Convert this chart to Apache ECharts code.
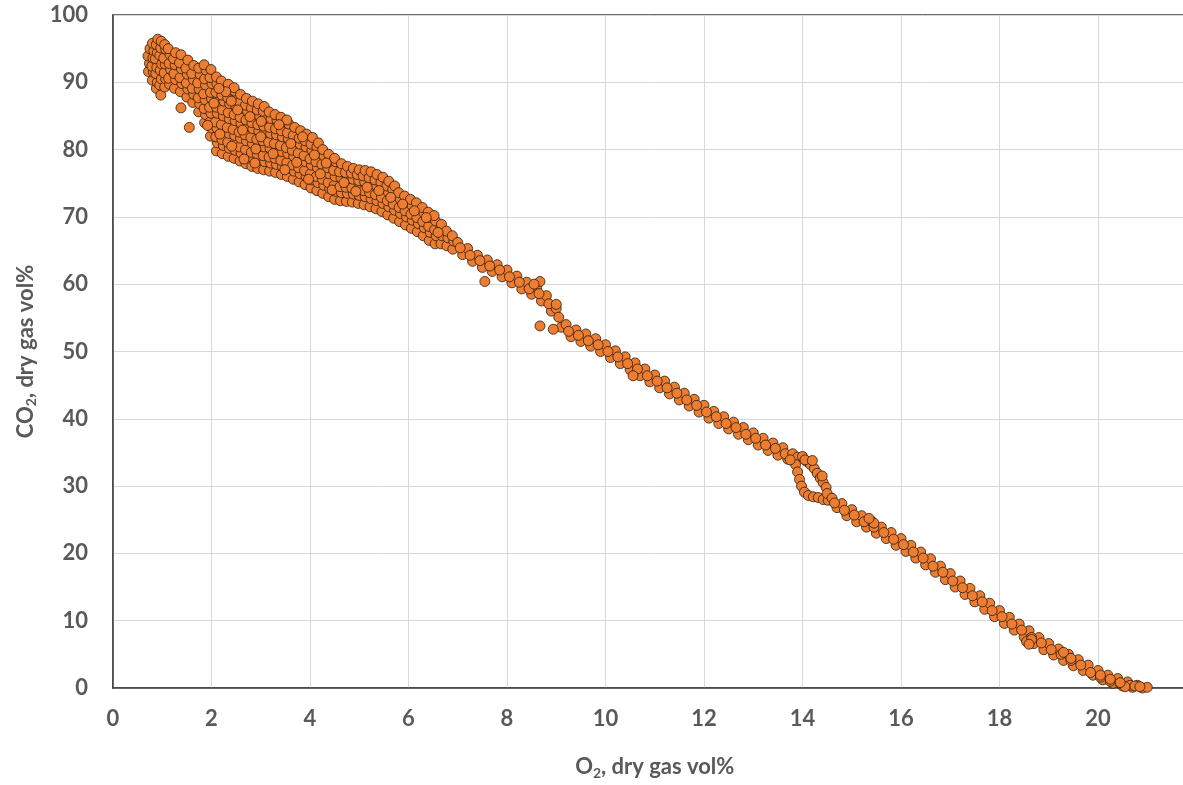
<!DOCTYPE html>
<html>
<head>
<meta charset="utf-8">
<script src="https://cdn.jsdelivr.net/npm/echarts@6/dist/echarts.min.js"></script>
<style>
html,body{margin:0;padding:0;background:#fff;overflow:hidden;width:1183px;height:785px;}
#chart{width:1200px;height:785px;}
</style>
</head>
<body>
<div id="chart"></div>
<script>
// ---- data (O2 vol%, CO2 vol%) ----
const tipCluster = [
[0.72,91.6],[0.74,92.8],[0.71,93.9],[0.75,95.0],
[0.8,90.3],[0.82,91.5],[0.79,92.4],[0.81,93.6],[0.83,94.7],[0.8,95.8],
[0.88,89.1],[0.9,90.0],[0.87,91.3],[0.89,92.2],[0.86,93.5],[0.9,94.4],[0.88,95.6],[0.91,96.4],
[0.97,88.1],[0.95,89.6],[0.98,90.5],[0.96,91.8],[0.99,92.7],[0.95,94.0],[0.97,95.1],[0.98,96.1],
[1.05,89.3],[1.07,90.5],[1.04,91.4],[1.06,92.7],[1.03,93.6],[1.07,94.9],[1.05,95.6],
[1.15,89.7],[1.13,90.6],[1.17,91.9],[1.14,92.8],[1.16,94.1],[1.12,95.0],
[1.25,89.1],[1.27,90.4],[1.24,91.3],[1.26,92.6],[1.23,93.5],[1.27,94.4],
[1.38,86.2],[1.37,88.6],[1.4,89.8],[1.36,90.7],[1.39,92.0],[1.35,92.9],[1.38,94.1],
[1.5,87.8],[1.52,89.0],[1.49,89.9],[1.51,91.2],[1.48,92.1],[1.52,93.3],
[1.55,83.3]
];
const upperBand = [
[1.62,87.0],[1.64,88.2],[1.61,89.1],[1.63,90.4],[1.6,91.3],[1.64,92.5],
[1.74,85.6],[1.76,86.8],[1.73,87.7],[1.75,89.0],[1.72,89.9],[1.77,91.2],[1.74,92.1],
[1.86,84.0],[1.88,85.2],[1.85,86.1],[1.87,87.4],[1.84,88.3],[1.88,89.6],[1.86,90.5],[1.89,91.8],[1.85,92.6],
[1.98,82.0],[2.0,83.2],[1.97,84.1],[1.99,85.4],[1.96,86.3],[2.0,87.6],[1.98,88.5],[2.01,89.8],[1.97,90.7],[1.99,91.9],
[2.1,79.8],[2.12,81.0],[2.09,81.9],[2.11,83.2],[2.08,84.1],[2.12,85.4],[2.1,86.3],[2.13,87.6],[2.09,88.5],[2.11,89.8],[2.1,90.8],
[2.22,79.4],[2.24,80.6],[2.21,81.5],[2.23,82.8],[2.2,83.7],[2.24,85.0],[2.22,85.9],[2.25,87.2],[2.21,88.1],[2.23,89.4],[2.2,90.2],
[2.34,79.0],[2.36,80.2],[2.33,81.1],[2.35,82.4],[2.32,83.3],[2.36,84.6],[2.34,85.5],[2.37,86.8],[2.33,87.7],[2.35,89.0],[2.34,89.7],
[2.46,78.7],[2.48,79.9],[2.45,80.8],[2.47,82.1],[2.44,83.0],[2.48,84.3],[2.46,85.2],[2.49,86.5],[2.45,87.4],[2.47,88.7],[2.46,89.2],
[2.58,78.3],[2.6,79.5],[2.57,80.4],[2.59,81.7],[2.56,82.6],[2.6,83.9],[2.58,84.8],[2.61,86.1],[2.57,87.0],[2.59,88.2],
[2.7,77.9],[2.72,79.1],[2.69,80.0],[2.71,81.3],[2.68,82.2],[2.72,83.5],[2.7,84.4],[2.73,85.7],[2.69,86.6],[2.71,87.6],
[2.82,77.5],[2.84,78.7],[2.81,79.6],[2.83,80.9],[2.8,81.8],[2.84,83.1],[2.82,84.0],[2.85,85.3],[2.81,86.2],[2.83,87.2],
[2.94,77.2],[2.96,78.4],[2.93,79.3],[2.95,80.6],[2.92,81.5],[2.96,82.8],[2.94,83.7],[2.97,85.0],[2.93,85.9],[2.95,86.8],
[3.06,77.0],[3.08,78.2],[3.05,79.1],[3.07,80.4],[3.04,81.3],[3.08,82.6],[3.06,83.5],[3.09,84.8],[3.05,85.7],[3.07,86.4],
[1.92,83.6],[2.05,86.9],[2.17,82.3],[2.29,88.6],[2.41,80.5],[2.53,85.9],[2.66,78.6],[2.78,84.9],[2.9,80.1],[3.01,84.2],
[2.15,89.1],[2.4,87.2],[2.63,82.9],[2.88,78.0],[3.0,81.9]
];
const midBand = [
[3.18,76.8],[3.2,78.0],[3.17,78.9],[3.19,80.2],[3.16,81.1],[3.2,82.4],[3.18,83.3],[3.21,84.6],[3.17,85.6],
[3.3,76.6],[3.32,77.8],[3.29,78.7],[3.31,80.0],[3.28,80.9],[3.32,82.2],[3.3,83.1],[3.33,84.4],[3.29,85.2],
[3.42,76.3],[3.44,77.5],[3.41,78.4],[3.43,79.7],[3.4,80.6],[3.44,81.9],[3.42,82.8],[3.45,84.1],[3.41,84.8],
[3.54,76.0],[3.56,77.2],[3.53,78.1],[3.55,79.4],[3.52,80.3],[3.56,81.6],[3.54,82.5],[3.57,83.8],[3.53,84.4],
[3.66,75.6],[3.68,76.8],[3.65,77.7],[3.67,79.0],[3.64,79.9],[3.68,81.2],[3.66,82.1],[3.69,83.3],
[3.78,75.2],[3.8,76.4],[3.77,77.3],[3.79,78.6],[3.76,79.5],[3.8,80.8],[3.78,81.7],[3.81,82.8],
[3.9,74.8],[3.92,76.0],[3.89,76.9],[3.91,78.2],[3.88,79.1],[3.92,80.4],[3.9,81.3],[3.93,82.3],
[4.02,74.3],[4.04,75.5],[4.01,76.4],[4.03,77.7],[4.0,78.6],[4.04,79.9],[4.02,80.8],[4.05,81.8],
[4.14,73.9],[4.16,75.1],[4.13,76.0],[4.15,77.3],[4.12,78.2],[4.16,79.5],[4.14,80.4],[4.17,81.0],
[4.26,73.5],[4.28,74.7],[4.25,75.6],[4.27,76.9],[4.24,77.8],[4.28,79.1],[4.26,80.0],
[4.38,73.0],[4.4,74.2],[4.37,75.1],[4.39,76.4],[4.36,77.3],[4.4,78.6],[4.38,79.3],
[4.5,72.6],[4.52,73.8],[4.49,74.7],[4.51,76.0],[4.48,76.9],[4.52,78.2],[4.5,78.7],
[3.25,79.4],[3.37,83.7],[3.49,77.0],[3.61,80.9],[3.73,78.1],[3.85,81.9],[3.97,75.6],[4.09,79.2],[4.21,76.4],[4.33,78.0],[4.45,74.0]
];
const lowerBand = [
[4.62,72.4],[4.64,73.6],[4.61,74.5],[4.63,75.8],[4.6,76.7],[4.64,77.9],
[4.74,72.3],[4.76,73.5],[4.73,74.4],[4.75,75.7],[4.72,76.6],[4.76,77.5],
[4.86,72.2],[4.88,73.4],[4.85,74.3],[4.87,75.6],[4.84,76.5],[4.88,77.2],
[4.98,72.0],[5.0,73.2],[4.97,74.1],[4.99,75.4],[4.96,76.3],[5.0,77.0],
[5.1,71.8],[5.12,73.0],[5.09,73.9],[5.11,75.2],[5.08,76.1],[5.12,76.9],
[5.22,71.5],[5.24,72.7],[5.21,73.6],[5.23,74.9],[5.2,75.8],[5.24,76.7],
[5.34,71.2],[5.36,72.4],[5.33,73.3],[5.35,74.6],[5.32,75.5],[5.36,76.3],
[5.46,70.8],[5.48,72.0],[5.45,72.9],[5.47,74.2],[5.44,75.1],[5.48,75.9],
[5.58,70.3],[5.6,71.5],[5.57,72.4],[5.59,73.7],[5.56,74.6],[5.6,75.3],
[5.7,69.8],[5.72,71.0],[5.69,71.9],[5.71,73.2],[5.68,74.1],[5.72,74.6],
[5.82,69.3],[5.84,70.5],[5.81,71.4],[5.83,72.7],[5.8,73.6],
[5.94,68.8],[5.96,70.0],[5.93,70.9],[5.95,72.2],[5.92,73.1],
[6.06,68.3],[6.08,69.5],[6.05,70.4],[6.07,71.7],[6.04,72.6],
[6.18,67.8],[6.2,69.0],[6.17,69.9],[6.19,71.2],[6.16,72.1],
[6.3,67.2],[6.32,68.4],[6.29,69.3],[6.31,70.6],[6.28,71.4],
[6.42,66.5],[6.44,67.7],[6.41,68.6],[6.43,69.9],[6.4,70.7],
[6.54,66.0],[6.56,67.2],[6.53,68.1],[6.55,69.4],[6.52,70.2],
[6.66,66.0],[6.68,67.2],[6.65,68.1],[6.67,68.9],
[6.78,65.7],[6.8,66.9],[6.77,67.9],
[6.9,65.2],[6.92,66.4],[6.89,67.2],
[4.69,75.1],[4.93,73.8],[5.16,74.4],[5.4,73.9],[5.64,72.9],[5.88,71.9],[6.12,70.9],[6.36,69.9],[6.6,67.7]
];
const thinLine = [
[7.0,66.2],[7.1,64.4],[7.2,65.3],[7.3,63.4],[7.4,64.3],[7.5,62.5],[7.6,63.6],[7.7,61.9],[7.8,62.9],[7.9,61.1],
[8.0,62.1],[8.1,60.2],[8.2,61.2],[8.3,59.3],[8.4,60.3],[8.5,58.5],[8.6,59.5],[8.7,57.5],[8.8,58.3],[8.9,56.0],
[9.0,56.4],[9.1,53.6],[9.2,54.0],[9.3,52.2],[9.4,53.2],[9.5,51.5],[9.6,52.6],[9.7,50.8],[9.8,51.9],[9.9,50.0],
[10.0,51.0],[10.1,49.1],[10.2,50.1],[10.3,48.2],[10.4,49.2],[10.5,47.3],[10.6,48.3],[10.7,46.4],[10.8,47.4],[10.9,45.5],
[11.0,46.5],[11.1,44.6],[11.2,45.6],[11.3,43.7],[11.4,44.7],[11.5,42.8],[11.6,43.8],[11.7,41.9],[11.8,42.9],[11.9,41.0],
[12.0,42.0],[12.1,40.1],[12.2,41.1],[12.3,39.3],[12.4,40.3],[12.5,38.5],[12.6,39.5],[12.7,37.7],[12.8,38.7],[12.9,36.9],
[13.0,37.9],[13.1,36.1],[13.2,37.1],[13.3,35.3],[13.4,36.4],[13.5,34.6],[13.6,35.7],[13.7,34.0]
];
const thinLineMid = [
[7.05,65.4],[7.25,64.3],[7.45,63.5],[7.65,62.7],[7.85,62.1],[8.05,61.1],[8.25,60.3],[8.45,59.3],[8.65,58.6],[8.85,57.1],
[9.05,55.1],[9.25,53.0],[9.45,52.4],[9.65,51.6],[9.85,51.0],[10.05,50.0],[10.25,49.2],[10.45,48.2],[10.65,47.4],[10.85,46.4],
[11.05,45.6],[11.25,44.6],[11.45,43.8],[11.65,42.8],[11.85,42.0],[12.05,41.0],[12.25,40.3],[12.45,39.3],[12.65,38.7],[12.85,37.7],
[13.05,37.1],[13.25,36.1],[13.45,35.6],[13.65,34.8]
];
const loopPts = [
[13.8,34.8],[13.9,34.3],[14.0,34.4],[14.08,33.7],[14.16,33.2],[14.24,32.6],[14.3,31.9],[14.36,31.2],[14.42,30.5],[14.48,29.8],
[13.86,33.2],[13.9,32.1],[13.94,31.0],[13.98,30.0],[14.04,29.1],[14.12,28.6],[14.22,28.4],[14.32,28.3],[14.42,28.0],[14.52,27.9],
[13.75,33.9],[14.05,33.9],[14.2,33.8],[14.4,31.5],[14.5,28.9]
];
const tailPts = [
[14.6,28.2],[14.7,26.8],[14.8,27.4],[14.9,25.6],[15.0,26.5],[15.1,24.7],[15.2,25.6],[15.3,23.9],[15.4,24.8],[15.5,23.0],
[15.6,23.9],[15.7,22.2],[15.8,23.1],[15.9,21.2],[16.0,22.2],[16.1,20.3],[16.2,21.2],[16.3,19.3],[16.4,20.2],[16.5,18.3],
[16.6,19.2],[16.7,17.2],[16.8,18.1],[16.9,16.1],[17.0,17.0],[17.1,15.0],[17.2,15.9],[17.3,13.9],[17.4,14.8],[17.5,12.8],
[17.6,13.7],[17.7,11.7],[17.8,12.6],[17.9,10.6],[18.0,11.5],[18.1,9.6],[18.2,10.5],[18.3,8.6],[18.4,9.5],[18.5,7.6],
[18.6,8.5],[18.7,6.6],[18.8,7.5],[18.9,5.7],[19.0,6.6],[19.1,4.9],[19.2,5.8],[19.3,4.1],[19.4,5.0],[19.5,3.3],
[19.6,4.2],[19.7,2.6],[19.8,3.4],[19.9,1.9],[20.0,2.6],[20.1,1.2],[20.2,1.9],[20.3,0.7],[20.4,1.4],[20.5,0.3],
[20.6,0.9],[20.7,0.1],[20.8,0.4],[20.9,0.0],[21.0,0.1],
[19.85,2.3],[20.05,1.6],[20.25,1.0],[20.45,0.7],[20.65,0.4],[20.55,0.2],[20.75,0.3]
];
const tailMid = [
[14.65,27.5],[14.85,26.4],[15.05,25.7],[15.25,24.7],[15.45,23.9],[15.65,23.1],[15.85,22.1],[16.05,21.3],[16.25,20.2],[16.45,19.3],
[16.65,18.1],[16.85,17.2],[17.05,15.9],[17.25,14.9],[17.45,13.7],[17.65,12.8],[17.85,11.5],[18.05,10.6],[18.25,9.5],[18.45,8.6],
[18.65,7.5],[18.85,6.7],[19.05,5.7],[19.25,5.0],[19.45,4.1],[19.65,3.4],[20.05,1.9],[20.25,1.3],[20.45,0.8],[20.85,0.2]
];
const outliers = [
[7.55,60.4],[8.67,60.4],[8.55,60.0],[8.67,53.8],[8.94,53.3],[9.0,57.0],[10.56,46.4],
[18.55,6.9],[18.65,7.2],[18.6,6.5],[19.3,5.3],[19.45,4.4],[15.45,24.5],[15.35,25.2]
];

const xAxisTitle = ['O', '2', ', dry gas vol%'];
const yAxisTitle = ['CO', '2', ', dry gas vol%'];
const xMin = 0, xMax = 22, xStep = 2;
const yMin = 0, yMax = 100, yStep = 10;

const allPoints = [].concat(tipCluster, upperBand, midBand, lowerBand, thinLine, thinLineMid, loopPts, tailPts, tailMid, outliers);

const FONT = 'Lato';
const TXT = '#595959';
const richName = {
  n: {fontSize: 22, fontWeight: 'bold', color: TXT, fontFamily: FONT, lineHeight: 26},
  s: {fontSize: 14, fontWeight: 'bold', color: TXT, fontFamily: FONT, lineHeight: 10, verticalAlign: 'bottom'}
};
function title(parts){ return '{n|' + parts[0] + '}{s|' + parts[1] + '}{n|' + parts[2] + '}'; }

const chart = echarts.init(document.getElementById('chart'), null, {renderer: 'canvas'});
chart.setOption({
  animation: false,
  backgroundColor: '#ffffff',
  grid: {
    left: 113, top: 15, width: 1083.5, height: 675,
    show: true, borderColor: '#404040', borderWidth: 1.5, backgroundColor: 'transparent'
  },
  xAxis: {
    type: 'value', min: xMin, max: xMax, interval: xStep,
    name: title(xAxisTitle), nameLocation: 'middle', nameGap: 66,
    nameTextStyle: {rich: richName},
    axisLine: {show: true, lineStyle: {color: '#404040', width: 1.5}},
    axisTick: {show: false},
    axisLabel: {color: TXT, fontSize: 22, fontWeight: 'bold', fontFamily: FONT, margin: 20, showMaxLabel: false},
    splitLine: {show: true, lineStyle: {color: '#d9d9d9', width: 1}}
  },
  yAxis: {
    type: 'value', min: yMin, max: yMax, interval: yStep,
    name: title(yAxisTitle), nameLocation: 'middle', nameGap: 74, nameRotate: 90,
    nameTextStyle: {rich: richName},
    axisLine: {show: true, lineStyle: {color: '#404040', width: 1.5}},
    axisTick: {show: false},
    axisLabel: {color: TXT, fontSize: 22, fontWeight: 'bold', fontFamily: FONT, margin: 25},
    splitLine: {show: true, lineStyle: {color: '#d9d9d9', width: 1}}
  },
  series: [{
    type: 'scatter',
    data: allPoints,
    symbol: 'circle',
    symbolSize: 10,
    itemStyle: {color: '#ED7D31', borderColor: '#2a1a0c', borderWidth: 0.8, opacity: 1}
  }]
});
</script>
</body>
</html>
